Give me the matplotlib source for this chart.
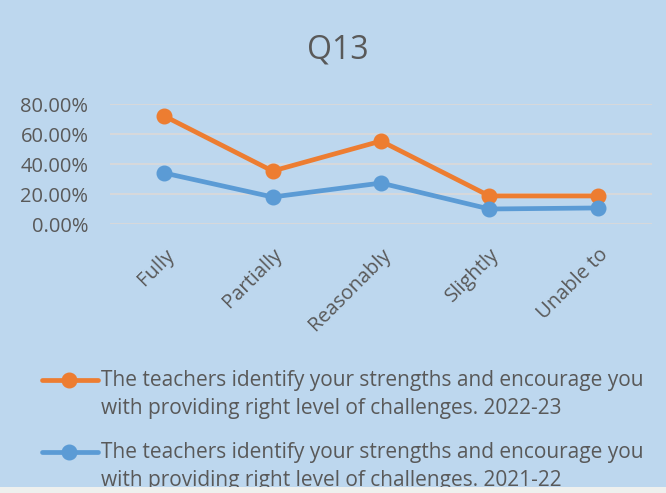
import matplotlib
matplotlib.use("Agg")
import matplotlib.pyplot as plt
from matplotlib.ticker import PercentFormatter
from matplotlib.lines import Line2D
from matplotlib.patches import Rectangle

categories = ["Fully", "Partially", "Reasonably", "Slightly", "Unable to"]
values_2022_23 = [0.72, 0.353, 0.553, 0.187, 0.187]
values_2021_22 = [0.34, 0.18, 0.273, 0.10, 0.107]
series_labels = [
    "The teachers identify your strengths and encourage you\nwith providing right level of challenges. 2022-23",
    "The teachers identify your strengths and encourage you\nwith providing right level of challenges. 2021-22",
]
title = "Q13"
yticks = [0.0, 0.2, 0.4, 0.6, 0.8]

BG = "#BDD7EE"
ORANGE = "#ED7D31"
BLUE = "#5B9BD5"
TXT = "#595959"
FONT = "Open Sans"

plt.rcParams["font.family"] = [FONT, "DejaVu Sans"]

W, H = 666, 493
fig = plt.figure(figsize=(W / 100, H / 100), dpi=100, facecolor=BG)
ax = fig.add_axes([110 / W, 1 - 224 / H, 542 / W, 120 / H], facecolor=BG)

x = range(len(categories))
series = [(values_2022_23, ORANGE), (values_2021_22, BLUE)]
for vals, col in series:
    ax.plot(x, vals, color=col, lw=3.4, marker="o", ms=10.5, solid_capstyle="round",
            solid_joinstyle="round", zorder=3, clip_on=False)

ax.set_xlim(-0.5, len(categories) - 0.5)
ax.set_ylim(0, 0.8)
ax.set_yticks(yticks)
ax.yaxis.set_major_formatter(PercentFormatter(1.0, decimals=2))
ax.grid(axis="y", color="#D9D9D9", lw=1.3)
ax.set_axisbelow(True)
for s in ax.spines.values():
    s.set_visible(False)
ax.tick_params(axis="both", length=0, colors=TXT, labelsize=14.5)
ax.tick_params(axis="y", pad=15.5)
ax.set_xticks(list(x))
ax.set_xticklabels(categories, rotation=45, ha="right", rotation_mode="anchor")
ax.tick_params(axis="x", pad=15)
for lbl in ax.get_xticklabels():
    lbl.set_fontsize(14.5)

fig.text(338 / W, 1 - 50 / H, title, ha="center", va="center", fontsize=23, color=TXT)

# manual legend
leg_y = [380, 452]
for (vals, col), label, yy in zip(series, series_labels, leg_y):
    yf = 1 - yy / H
    fig.add_artist(Line2D([42 / W, 98 / W], [yf, yf], transform=fig.transFigure,
                          color=col, lw=3.4, solid_capstyle="round"))
    fig.add_artist(Line2D([69 / W], [yf], transform=fig.transFigure, color=col,
                          marker="o", ms=10.5, lw=0))
    fig.text(101 / W, 1 - (yy - 10) / H, label, ha="left", va="top", fontsize=15,
             color=TXT, linespacing=1.45)

fig.add_artist(Rectangle((0, 0), 1, 6 / H, transform=fig.transFigure,
                         facecolor="#EEF0EE", edgecolor="none", zorder=10))

fig.savefig("out.png", dpi=100, facecolor=BG)
